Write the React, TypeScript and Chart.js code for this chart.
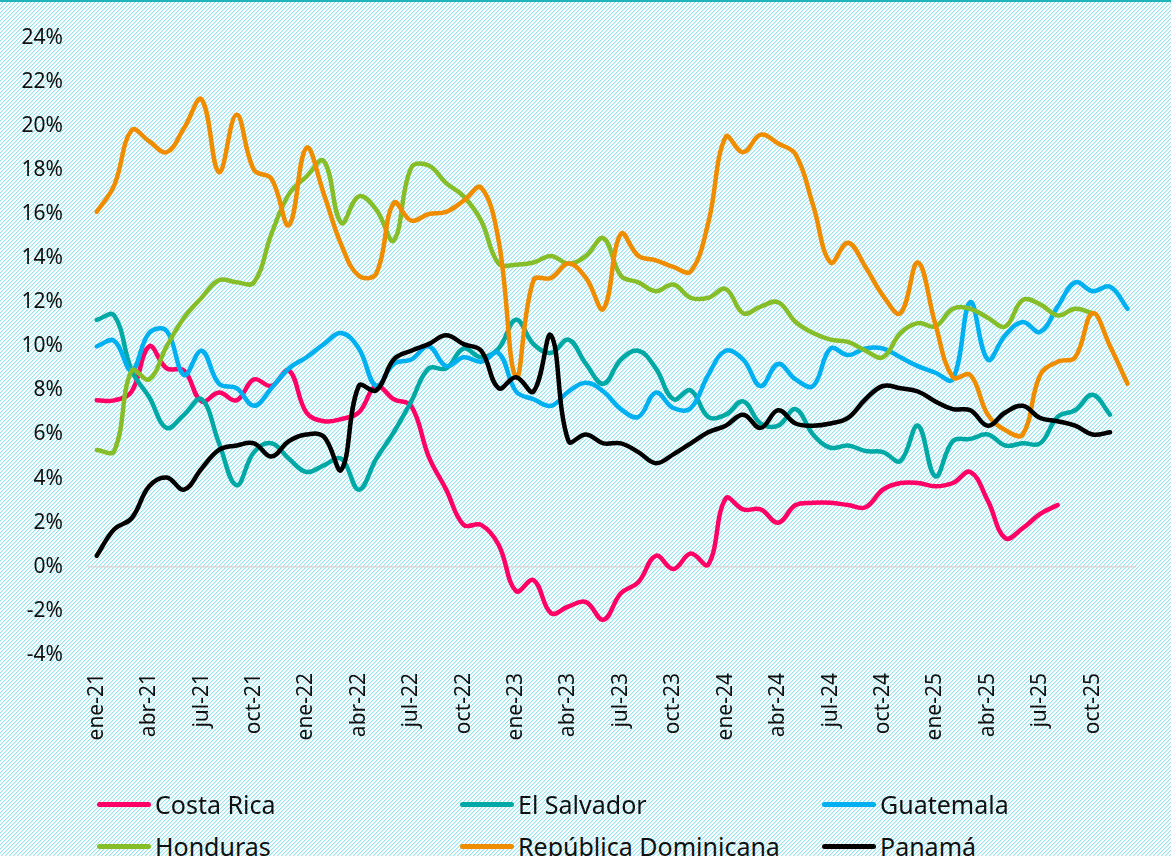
import React, { useEffect, useRef, useMemo } from "react";
import { Chart, registerables } from "chart.js";

Chart.register(...registerables);

const categories = [
  "ene-21", "feb-21", "mar-21", "abr-21", "may-21", "jun-21", "jul-21", "ago-21", "sep-21", "oct-21", "nov-21", "dic-21",
  "ene-22", "feb-22", "mar-22", "abr-22", "may-22", "jun-22", "jul-22", "ago-22", "sep-22", "oct-22", "nov-22", "dic-22",
  "ene-23", "feb-23", "mar-23", "abr-23", "may-23", "jun-23", "jul-23", "ago-23", "sep-23", "oct-23", "nov-23", "dic-23",
  "ene-24", "feb-24", "mar-24", "abr-24", "may-24", "jun-24", "jul-24", "ago-24", "sep-24", "oct-24", "nov-24", "dic-24",
  "ene-25", "feb-25", "mar-25", "abr-25", "may-25", "jun-25", "jul-25", "ago-25", "sep-25", "oct-25", "nov-25", "dic-25",
];

const costaRica = [
  7.55, 7.55, 7.95, 10.0, 9.0, 8.9, 7.5, 7.9, 7.55, 8.5,
  8.2, 8.9, 7.0, 6.6, 6.7, 7.0, 8.2, 7.6, 7.3, 5.0,
  3.5, 1.9, 1.9, 1.0, -1.1, -0.6, -2.1, -1.8, -1.6, -2.4,
  -1.2, -0.7, 0.5, -0.1, 0.6, 0.1, 3.1, 2.6, 2.6, 2.0,
  2.8, 2.9, 2.9, 2.8, 2.7, 3.5, 3.8, 3.8, 3.65, 3.8,
  4.3, 3.0, 1.3, 1.75, 2.4, 2.8, null, null, null, null,
];

const elSalvador = [
  11.2, 11.4, 8.9, 7.7, 6.3, 6.9, 7.6, 5.6, 3.7, 5.2,
  5.6, 4.9, 4.3, 4.6, 4.9, 3.5, 4.9, 6.1, 7.5, 9.0,
  9.0, 9.9, 9.5, 9.9, 11.2, 10.1, 9.7, 10.3, 9.2, 8.3,
  9.4, 9.8, 9.0, 7.6, 8.0, 6.8, 6.9, 7.5, 6.5, 6.4,
  7.15, 6.0, 5.4, 5.5, 5.25, 5.2, 4.8, 6.4, 4.1, 5.7,
  5.8, 6.0, 5.5, 5.6, 5.6, 6.8, 7.1, 7.8, 6.9, null,
];

const guatemala = [
  10.0, 10.25, 8.9, 10.6, 10.7, 8.7, 9.8, 8.3, 8.1, 7.3,
  8.1, 9.0, 9.5, 10.1, 10.6, 9.9, 8.2, 9.2, 9.4, 10.0,
  9.1, 9.5, 9.3, 9.7, 7.95, 7.6, 7.3, 7.95, 8.35, 7.95,
  7.15, 6.8, 7.9, 7.2, 7.2, 8.7, 9.8, 9.4, 8.2, 9.2,
  8.5, 8.2, 9.9, 9.6, 9.9, 9.9, 9.5, 9.1, 8.8, 8.5,
  12.0, 9.4, 10.5, 11.1, 10.65, 11.8, 12.9, 12.5, 12.7, 11.7,
];

const honduras = [
  5.3, 5.25, 8.9, 8.5, 10.0, 11.3, 12.2, 13.0, 12.9, 12.9,
  15.1, 16.9, 17.7, 18.4, 15.6, 16.8, 16.2, 14.8, 18.1, 18.2,
  17.4, 16.8, 15.7, 13.75, 13.7, 13.8, 14.1, 13.75, 14.1, 14.9,
  13.2, 12.9, 12.5, 12.8, 12.2, 12.2, 12.6, 11.5, 11.8, 12.0,
  11.1, 10.6, 10.3, 10.2, 9.8, 9.5, 10.6, 11.05, 10.9, 11.7,
  11.7, 11.3, 10.9, 12.1, 11.9, 11.4, 11.7, 11.5, null, null,
];

const republicaDominicana = [
  16.1, 17.3, 19.8, 19.3, 18.8, 19.9, 21.2, 17.9, 20.5, 18.0,
  17.6, 15.5, 19.0, 16.9, 14.6, 13.2, 13.3, 16.5, 15.7, 16.0,
  16.1, 16.6, 17.2, 14.8, 8.6, 13.0, 13.1, 13.75, 13.1, 11.7,
  15.1, 14.1, 13.9, 13.6, 13.4, 15.6, 19.5, 18.8, 19.6, 19.2,
  18.7, 16.4, 13.8, 14.7, 13.6, 12.3, 11.5, 13.8, 11.0, 8.6,
  8.7, 6.9, 6.2, 6.0, 8.7, 9.3, 9.5, 11.5, 10.0, 8.3,
];

const panama = [
  0.5, 1.7, 2.2, 3.65, 4.05, 3.5, 4.45, 5.3, 5.5, 5.6,
  5.0, 5.7, 6.0, 5.9, 4.4, 8.2, 8.0, 9.4, 9.8, 10.1,
  10.5, 10.1, 9.8, 8.1, 8.6, 7.95, 10.5, 5.7, 6.0, 5.6,
  5.6, 5.2, 4.7, 5.1, 5.6, 6.1, 6.4, 6.9, 6.3, 7.1,
  6.5, 6.4, 6.5, 6.75, 7.6, 8.2, 8.1, 7.95, 7.5, 7.15,
  7.1, 6.4, 7.0, 7.3, 6.75, 6.6, 6.4, 6.0, 6.1, null,
];

const seriesNames = ["Costa Rica", "El Salvador", "Guatemala", "Honduras", "República Dominicana", "Panamá"];
const seriesData = [costaRica, elSalvador, guatemala, honduras, republicaDominicana, panama];
const seriesColors = ["#FF0066", "#00A9A6", "#00B0F0", "#86BE2A", "#F08C00", "#000000"];

const yTickMin = -4;
const yTickMax = 24;
const yTickStep = 2;

const FONT = "'Noto Sans', 'DejaVu Sans', sans-serif";

function makeHatch(): string {
  const c = document.createElement("canvas");
  c.width = 8;
  c.height = 8;
  const g = c.getContext("2d");
  if (!g) return "";
  const img = g.createImageData(8, 8);
  for (let y = 0; y < 8; y++) {
    for (let x = 0; x < 8; x++) {
      const k = (x + y) % 4;
      let r = 255, gg = 255, b = 255;
      if (k === 0) { r = 150; gg = 226; b = 236; }
      else if (k === 1) { r = 214; gg = 243; b = 247; }
      const o = (y * 8 + x) * 4;
      img.data[o] = r; img.data[o + 1] = gg; img.data[o + 2] = b; img.data[o + 3] = 255;
    }
  }
  g.putImageData(img, 0, 0);
  return c.toDataURL();
}

export default function App() {
  const canvasRef = useRef<HTMLCanvasElement | null>(null);
  const hatch = useMemo(() => makeHatch(), []);

  useEffect(() => {
    const canvas = canvasRef.current;
    if (!canvas) return;
    const chart = new Chart(canvas, {
      type: "line",
      data: {
        labels: categories,
        datasets: seriesData.map((d, i) => ({
          label: seriesNames[i],
          data: d,
          borderColor: seriesColors[i],
          backgroundColor: seriesColors[i],
          borderWidth: 4.5,
          pointRadius: 0,
          pointHoverRadius: 0,
          tension: 0.4,
          fill: false,
          spanGaps: false,
          borderCapStyle: "round" as const,
          borderJoinStyle: "round" as const,
          order: seriesData.length - 1 - i,
        })),
      },
      options: {
        responsive: false,
        animation: false,
        layout: { padding: { left: 0, right: 30, top: 37, bottom: 0 } },
        plugins: {
          legend: { display: false },
          tooltip: { enabled: false },
        },
        scales: {
          x: {
            type: "category",
            offset: true,
            grid: { display: false, drawTicks: false },
            border: { display: false },
            ticks: {
              autoSkip: false,
              maxRotation: 90,
              minRotation: 90,
              padding: 18,
              color: "#111111",
              font: { family: FONT, size: 21 },
              callback: (_v: any, i: number) => (i % 3 === 0 ? categories[i] : ""),
            },
            afterFit: (s: any) => {
              s.height = 133;
            },
          },
          y: {
            min: yTickMin,
            max: yTickMax,
            border: { display: false },
            grid: {
              drawTicks: false,
              lineWidth: 1.5,
              color: (c: any) => (c.tick && c.tick.value === 0 ? "#d9d9d9" : "rgba(0,0,0,0)"),
            },
            ticks: {
              stepSize: yTickStep,
              padding: 25,
              color: "#111111",
              font: { family: FONT, size: 21 },
              callback: (v: any) => `${v}%`,
            },
            afterFit: (s: any) => {
              s.width = 88;
            },
          },
        },
      },
    });
    return () => chart.destroy();
  }, []);

  const colX = [97, 460, 822];
  const rowY = [804, 846];

  return (
    <div
      style={{
        position: "absolute",
        left: 0,
        top: 0,
        width: 1171,
        height: 856,
        overflow: "hidden",
        backgroundColor: "#ffffff",
        backgroundImage: `url(${hatch})`,
        backgroundRepeat: "repeat",
        fontFamily: FONT,
      }}
    >
      <div style={{ position: "absolute", left: 0, top: 0, width: 1171, height: 2, background: "#1FB2B8" }} />
      <canvas
        ref={canvasRef}
        width={1171}
        height={788}
        style={{ position: "absolute", left: 0, top: 0, width: 1171, height: 788 }}
      />
      {seriesNames.map((name, i) => {
        const col = i % 3;
        const row = Math.floor(i / 3);
        return (
          <div
            key={name}
            style={{
              position: "absolute",
              left: colX[col],
              top: rowY[row] - 16,
              height: 32,
              display: "flex",
              alignItems: "center",
              whiteSpace: "nowrap",
            }}
          >
            <div
              style={{
                width: 54,
                height: 5,
                borderRadius: 3,
                background: seriesColors[i],
                marginRight: 4,
              }}
            />
            <span style={{ fontSize: 25, color: "#111111", lineHeight: "32px" }}>{name}</span>
          </div>
        );
      })}
    </div>
  );
}
